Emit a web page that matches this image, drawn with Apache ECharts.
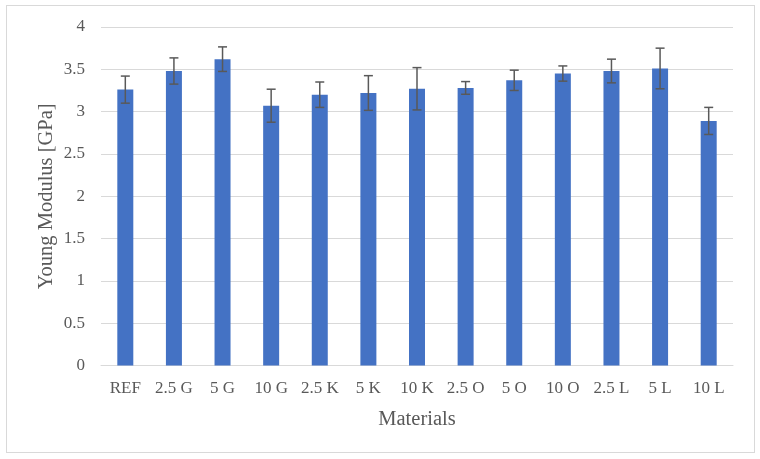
<!DOCTYPE html>
<html>
<head>
<meta charset="utf-8">
<script src="https://cdn.jsdelivr.net/npm/echarts@6/dist/echarts.min.js"></script>
<style>
html,body{margin:0;padding:0;background:#fff;}
#frame{position:absolute;left:6px;top:5px;width:749px;height:448px;border:1px solid #d9d9d9;box-sizing:border-box;}
#chart{position:absolute;left:0;top:0;width:760px;height:459px;}
</style>
</head>
<body>
<div id="frame"></div>
<div id="chart"></div>
<script>
const categories = ['REF','2.5 G','5 G','10 G','2.5 K','5 K','10 K','2.5 O','5 O','10 O','2.5 L','5 L','10 L'];
const modulus = [3.26, 3.48, 3.62, 3.07, 3.20, 3.22, 3.27, 3.28, 3.37, 3.45, 3.48, 3.51, 2.89];
const errors  = [0.16, 0.155, 0.145, 0.195, 0.15, 0.205, 0.25, 0.075, 0.12, 0.09, 0.14, 0.24, 0.16];
const yTicks = [0, 0.5, 1, 1.5, 2, 2.5, 3, 3.5, 4];

const textColor = '#595959';
const font = '"Liberation Serif", "Times New Roman", serif';

const chart = echarts.init(document.getElementById('chart'), null, {renderer: 'canvas'});
chart.setOption({
  animation: false,
  backgroundColor: 'transparent',
  grid: {left: 101, right: 27, top: 27, bottom: 93.5, containLabel: false},
  xAxis: {
    type: 'category',
    data: categories,
    name: 'Materials',
    nameLocation: 'middle',
    nameGap: 44,
    nameMoveOverlap: false,
    nameTextStyle: {color: textColor, fontFamily: font, fontSize: 20.5},
    axisLine: {show: true, lineStyle: {color: '#d9d9d9', width: 1}},
    axisTick: {show: false},
    axisLabel: {color: textColor, fontFamily: font, fontSize: 17, margin: 15, interval: 0}
  },
  yAxis: {
    type: 'value',
    min: yTicks[0],
    max: yTicks[yTicks.length - 1],
    interval: 0.5,
    name: 'Young Modulus [GPa]',
    nameLocation: 'middle',
    nameGap: 44,
    nameMoveOverlap: false,
    nameTextStyle: {color: textColor, fontFamily: font, fontSize: 20.5},
    axisLine: {show: false},
    axisTick: {show: false},
    axisLabel: {color: textColor, fontFamily: font, fontSize: 17, margin: 16},
    splitLine: {lineStyle: {color: '#d9d9d9', width: 1}}
  },
  series: [
    {
      type: 'bar',
      data: modulus,
      barWidth: 16,
      itemStyle: {color: '#4472C4'},
      z: 2
    },
    {
      type: 'custom',
      z: 3,
      data: modulus.map((v, i) => [i, v - errors[i], v + errors[i]]),
      renderItem: function (params, api) {
        const x = api.value(0);
        const lo = api.coord([x, api.value(1)]);
        const hi = api.coord([x, api.value(2)]);
        const hw = 4.5;
        const style = {stroke: '#595959', lineWidth: 1.5, fill: null};
        return {
          type: 'group',
          children: [
            {type: 'line', shape: {x1: lo[0], y1: lo[1], x2: hi[0], y2: hi[1]}, style: style},
            {type: 'line', shape: {x1: hi[0] - hw, y1: hi[1], x2: hi[0] + hw, y2: hi[1]}, style: style},
            {type: 'line', shape: {x1: lo[0] - hw, y1: lo[1], x2: lo[0] + hw, y2: lo[1]}, style: style}
          ]
        };
      }
    }
  ]
});
</script>
</body>
</html>
